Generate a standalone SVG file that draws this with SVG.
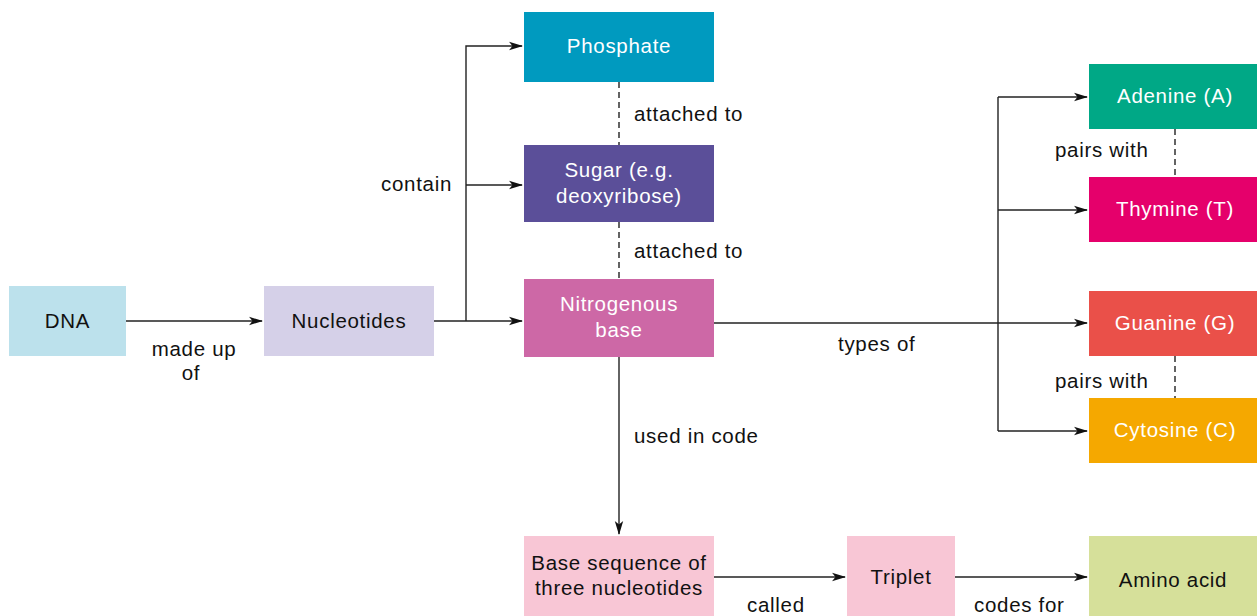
<svg xmlns="http://www.w3.org/2000/svg" width="1257" height="616" viewBox="0 0 1257 616">
<style>
text{font-family:"Liberation Sans",Arial,sans-serif;font-size:20.5px;letter-spacing:0.7px}
.w{fill:#fff;text-anchor:middle}
.b{fill:#111;text-anchor:middle}
.l{fill:#111}
.c{fill:none;stroke:#222;stroke-width:1.4}
.d{fill:none;stroke:#222;stroke-width:1.4;stroke-dasharray:6 4}
</style>
<defs>
<marker id="a" viewBox="0 0 14 10" refX="13" refY="5" markerWidth="14" markerHeight="10" markerUnits="userSpaceOnUse" orient="auto">
<path d="M0,0.8 L14,5 L0,9.2 L3.5,5 Z" fill="#111"/>
</marker>
</defs>
<rect width="1257" height="616" fill="#fff"/>
<g id="connectors">
<path class="c" d="M126,321 H262" marker-end="url(#a)"/>
<path class="c" d="M434,321 H522" marker-end="url(#a)"/>
<path class="c" d="M466,321 V46 H522" marker-end="url(#a)"/>
<path class="c" d="M466,185 H522" marker-end="url(#a)"/>
<path class="d" d="M619,82 V145"/>
<path class="d" d="M619,222 V279"/>
<path class="c" d="M714,323 H1087" marker-end="url(#a)"/>
<path class="c" d="M998,97 V431"/>
<path class="c" d="M998,97 H1087" marker-end="url(#a)"/>
<path class="c" d="M998,210 H1087" marker-end="url(#a)"/>
<path class="c" d="M998,431 H1087" marker-end="url(#a)"/>
<path class="d" d="M1175,129 V177"/>
<path class="d" d="M1175,356 V398"/>
<path class="c" d="M619,357 V534" marker-end="url(#a)"/>
<path class="c" d="M714,577 H845" marker-end="url(#a)"/>
<path class="c" d="M955,577 H1087" marker-end="url(#a)"/>
<text class="b" x="194" y="356">made up</text>
<text class="b" x="191" y="380">of</text>
<text class="l" x="381" y="191">contain</text>
<text class="l" x="634" y="121">attached to</text>
<text class="l" x="634" y="258">attached to</text>
<text class="l" x="838" y="351">types of</text>
<text class="l" x="1055" y="157">pairs with</text>
<text class="l" x="1055" y="388">pairs with</text>
<text class="l" x="634" y="443">used in code</text>
<text class="l" x="747" y="612">called</text>
<text class="l" x="974" y="612">codes for</text>
</g>
<g id="dna"><rect x="9" y="286" width="117" height="70" fill="#bce1ec"/><text class="b" x="67.5" y="328">DNA</text></g>
<g id="nucleotides"><rect x="264" y="286" width="170" height="70" fill="#d5d0e8"/><text class="b" x="349" y="328">Nucleotides</text></g>
<g id="phosphate"><rect x="524" y="12" width="190" height="70" fill="#009abf"/><text class="w" x="619" y="53">Phosphate</text></g>
<g id="sugar"><rect x="524" y="145" width="190" height="77" fill="#5b4f99"/><text class="w" x="619" y="177">Sugar (e.g.</text><text class="w" x="619" y="203">deoxyribose)</text></g>
<g id="nitrogenous"><rect x="524" y="279" width="190" height="78" fill="#cd68a6"/><text class="w" x="619" y="311">Nitrogenous</text><text class="w" x="619" y="337">base</text></g>
<g id="adenine"><rect x="1089" y="64" width="168" height="65" fill="#00a886"/><text class="w" x="1175" y="103">Adenine (A)</text></g>
<g id="thymine"><rect x="1089" y="177" width="168" height="65" fill="#e5006b"/><text class="w" x="1175" y="216">Thymine (T)</text></g>
<g id="guanine"><rect x="1089" y="291" width="168" height="65" fill="#ea5049"/><text class="w" x="1175" y="330">Guanine (G)</text></g>
<g id="cytosine"><rect x="1089" y="398" width="168" height="65" fill="#f5a800"/><text class="w" x="1175" y="437">Cytosine (C)</text></g>
<g id="baseseq"><rect x="524" y="536" width="190" height="90" fill="#f8c6d5"/><text class="b" x="619" y="570">Base sequence of</text><text class="b" x="619" y="595">three nucleotides</text></g>
<g id="triplet"><rect x="847" y="536" width="108" height="90" fill="#f8c6d5"/><text class="b" x="901" y="584">Triplet</text></g>
<g id="aminoacid"><rect x="1089" y="536" width="168" height="90" fill="#d6e09a"/><text class="b" x="1173" y="587">Amino acid</text></g>
</svg>
